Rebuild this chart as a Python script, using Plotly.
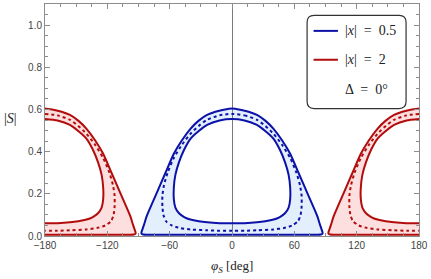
import plotly.graph_objects as go

# ---------------- data ----------------
# Blue region, |x| = 0.5 : right half of each closed curve, traversed from the top (phi=0)
# around the right side back to phi=0 at the bottom.  Left half is the mirror image.
blue_outer_phi = [0, 8, 16, 24, 32, 40, 48, 56, 64, 72, 77.6, 82, 84.6, 86.3, 87.2, 87.0, 85.5, 82, 75, 60, 40, 20, 0]
blue_outer_S   = [0.605, 0.599, 0.589, 0.574, 0.547, 0.508, 0.455, 0.39, 0.30, 0.209, 0.146, 0.095, 0.055, 0.03, 0.017, 0.01, 0.007, 0.006, 0.006, 0.006, 0.006, 0.006, 0.006]

blue_inner_phi = [0, 12, 24, 32, 40, 46, 51, 54.5, 56, 56, 54.5, 51, 46, 40, 32, 24, 12, 0]
blue_inner_S   = [0.555, 0.548, 0.527, 0.498, 0.461, 0.41, 0.35, 0.29, 0.23, 0.175, 0.135, 0.108, 0.09, 0.078, 0.07, 0.065, 0.061, 0.06]

blue_mid_phi = [0, 12, 24, 32, 40, 48, 56, 62, 65.5, 67, 67, 66, 63.5, 58, 50, 40, 24, 12, 0]
blue_mid_S   = [0.579, 0.572, 0.551, 0.522, 0.484, 0.434, 0.37, 0.30, 0.24, 0.19, 0.14, 0.10, 0.07, 0.05, 0.038, 0.031, 0.027, 0.025, 0.025]

# Red region, |x| = 2 : curves given as distance from phi = -180 (left piece);
# the right piece (near +180) is the mirror image.
red_outer_dphi = [0, 8, 16, 24, 32, 40, 48, 56, 64, 72, 77.6, 82, 84.6, 86.3, 87.2, 87.0, 85.5, 82, 75, 60, 40, 20, 0]
red_outer_S    = [0.605, 0.599, 0.589, 0.574, 0.547, 0.508, 0.455, 0.39, 0.30, 0.209, 0.146, 0.095, 0.055, 0.03, 0.017, 0.01, 0.007, 0.006, 0.006, 0.006, 0.006, 0.006, 0.006]

red_inner_dphi = [0, 12, 24, 32, 40, 46, 51, 54.5, 56, 56, 54.5, 51, 46, 40, 32, 24, 12, 0]
red_inner_S    = [0.555, 0.548, 0.527, 0.498, 0.461, 0.41, 0.35, 0.29, 0.23, 0.175, 0.135, 0.108, 0.09, 0.078, 0.07, 0.065, 0.061, 0.06]

red_mid_dphi = [0, 12, 24, 32, 40, 48, 56, 62, 65.5, 67, 67, 66, 63.5, 58, 50, 40, 24, 12, 0]
red_mid_S    = [0.579, 0.572, 0.551, 0.522, 0.484, 0.434, 0.37, 0.30, 0.24, 0.19, 0.14, 0.10, 0.07, 0.05, 0.038, 0.031, 0.027, 0.025, 0.025]

x_ticks = [-180, -120, -60, 0, 60, 120, 180]
y_ticks = [0.0, 0.2, 0.4, 0.6, 0.8, 1.0]
legend_labels = ["|<i>x</i>|  =  0.5", "|<i>x</i>|  =  2", "Δ  =  0°"]

# ---------------- styles ----------------
BLUE = "rgb(12,18,168)"
RED = "rgb(178,12,12)"
BLUE_FILL = "rgba(40,130,235,0.13)"
RED_FILL = "rgba(240,40,40,0.15)"
FRAME = "#8c8c8c"
LW = 2.0
SMOOTH = 0.6


def full_loop(phi, S):
    """right half (top->bottom) followed by mirrored left half (bottom->top)"""
    xs = list(phi) + [-p for p in reversed(phi)]
    ys = list(S) + list(reversed(S))
    return xs, ys


fig = go.Figure()

# ---- blue fill (annulus) ----
ox, oy = full_loop(blue_outer_phi, blue_outer_S)
ix, iy = full_loop(blue_inner_phi, blue_inner_S)
fig.add_trace(go.Scatter(x=ox + ix[::-1], y=oy + iy[::-1], mode="lines", fill="toself",
                         fillcolor=BLUE_FILL, line=dict(width=0, shape="spline", smoothing=SMOOTH),
                         hoverinfo="skip", showlegend=False))

# ---- red fills (two pieces clipped at +-180) ----
for sgn in (-1, 1):
    oxr = [sgn * (180 - d) for d in red_outer_dphi]
    ixr = [sgn * (180 - d) for d in red_inner_dphi]
    fig.add_trace(go.Scatter(x=oxr + ixr[::-1], y=list(red_outer_S) + list(red_inner_S)[::-1],
                             mode="lines", fill="toself", fillcolor=RED_FILL,
                             line=dict(width=0, shape="spline", smoothing=SMOOTH),
                             hoverinfo="skip", showlegend=False))

# ---- blue curves ----
for (px, py, dash) in [(blue_outer_phi, blue_outer_S, "solid"),
                       (blue_inner_phi, blue_inner_S, "solid"),
                       (blue_mid_phi, blue_mid_S, "3px,3px")]:
    xs, ys = full_loop(px, py)
    fig.add_trace(go.Scatter(x=xs, y=ys, mode="lines",
                             line=dict(color=BLUE, width=LW, dash=dash, shape="spline", smoothing=SMOOTH),
                             hoverinfo="skip", showlegend=False))

# ---- red curves ----
for (pd_, py, dash) in [(red_outer_dphi, red_outer_S, "solid"),
                        (red_inner_dphi, red_inner_S, "solid"),
                        (red_mid_dphi, red_mid_S, "3px,3px")]:
    for sgn in (-1, 1):
        fig.add_trace(go.Scatter(x=[sgn * (180 - d) for d in pd_], y=py, mode="lines",
                                 line=dict(color=RED, width=LW, dash=dash, shape="spline", smoothing=SMOOTH),
                                 hoverinfo="skip", showlegend=False, cliponaxis=True))

# ---------------- layout ----------------
W, H = 431, 279
ML, MR, MT, MB = 45, 10, 3, 43
PW, PH = W - ML - MR, H - MT - MB


def px2paper(X, Y):
    return (X - ML) / PW, (H - MB - Y) / PH


fig.update_layout(
    width=W, height=H,
    margin=dict(l=ML, r=MR, t=MT, b=MB),
    paper_bgcolor="white", plot_bgcolor="white",
    showlegend=False,
    xaxis=dict(range=[-180, 180], tickvals=x_ticks, ticks="inside", ticklen=5, tickcolor=FRAME,
               showline=True, linecolor=FRAME, linewidth=1, mirror="ticks", showgrid=False,
               zeroline=True, zerolinecolor="#7a7a7a", zerolinewidth=1,
               tickfont=dict(family="Liberation Sans", size=10, color="#444"),
               minor=dict(dtick=15, ticks="inside", ticklen=3, tickcolor=FRAME),
               fixedrange=True),
    yaxis=dict(range=[0, 1.1], tickvals=y_ticks, tickformat=".1f", ticks="inside", ticklen=5,
               tickcolor=FRAME, showline=True, linecolor=FRAME, linewidth=1, mirror="ticks",
               showgrid=False, zeroline=False,
               tickfont=dict(family="Liberation Sans", size=10, color="#444"),
               minor=dict(dtick=0.05, ticks="inside", ticklen=3, tickcolor=FRAME),
               fixedrange=True),
)

# axis labels
lx, ly = px2paper(233, 267)
fig.add_annotation(x=lx, y=ly, xref="paper", yref="paper", showarrow=False,
                   text="<i>φ</i><sub><i>S</i></sub> [deg]", xanchor="center", yanchor="middle",
                   font=dict(family="Liberation Serif", size=13, color="#222"))
sx, sy = px2paper(10, 118)
fig.add_annotation(x=sx, y=sy, xref="paper", yref="paper", showarrow=False,
                   text="|<i>S</i>|", xanchor="center", yanchor="middle",
                   font=dict(family="Liberation Serif", size=14, color="#222"))

# legend box (rounded rectangle)
x0, y1 = px2paper(308.5, 14.5)
x1, y0 = px2paper(408, 108)
r = 7
rx, ry = r / PW, r / PH
path = (f"M {x0+rx},{y1} L {x1-rx},{y1} Q {x1},{y1} {x1},{y1-ry} L {x1},{y0+ry} "
        f"Q {x1},{y0} {x1-rx},{y0} L {x0+rx},{y0} Q {x0},{y0} {x0},{y0+ry} "
        f"L {x0},{y1-ry} Q {x0},{y1} {x0+rx},{y1} Z")
fig.add_shape(type="path", path=path, xref="paper", yref="paper",
              line=dict(color="#333", width=1.2), fillcolor="white", layer="above")

legend_rows_y = [30, 59, 89]
for color, Yrow in [(BLUE, legend_rows_y[0]), (RED, legend_rows_y[1])]:
    lx0, lyy = px2paper(315, Yrow)
    lx1, _ = px2paper(339.5, Yrow)
    fig.add_shape(type="line", x0=lx0, x1=lx1, y0=lyy, y1=lyy, xref="paper", yref="paper",
                  line=dict(color=color, width=2), layer="above")
for label, Yrow in zip(legend_labels, legend_rows_y):
    tx, ty = px2paper(345, Yrow)
    fig.add_annotation(x=tx, y=ty, xref="paper", yref="paper", showarrow=False, text=label,
                       xanchor="left", yanchor="middle",
                       font=dict(family="Liberation Serif", size=14, color="#222"))

fig.write_html("out.html", config={"displayModeBar": False, "staticPlot": True},
               post_script="document.body.style.margin='0';document.body.style.overflow='hidden';")
